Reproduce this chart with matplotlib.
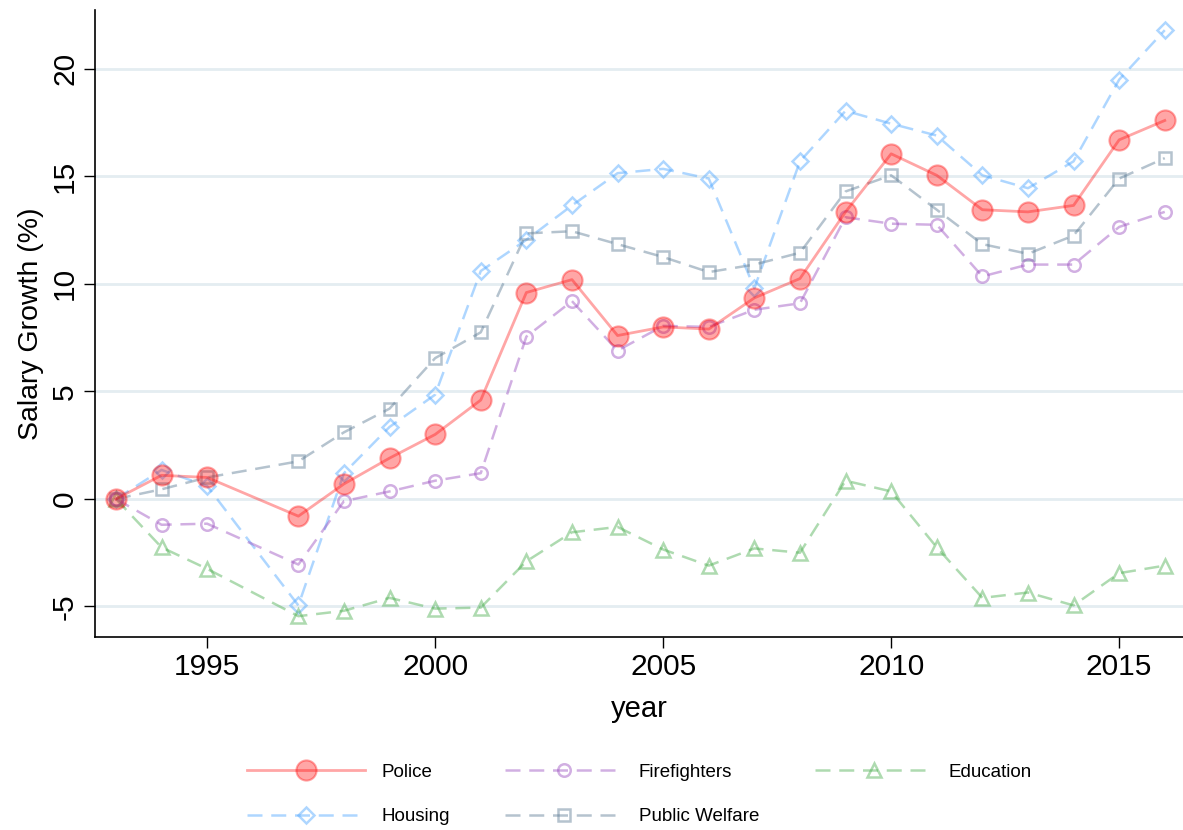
import numpy as np
import matplotlib
matplotlib.use("Agg")
import matplotlib.pyplot as plt

plt.rcParams['font.family'] = ['Liberation Sans', 'DejaVu Sans']
plt.rcParams['axes.unicode_minus'] = False

# data (1996 missing in the source)
years = [1993, 1994, 1995, 1997, 1998, 1999, 2000, 2001, 2002, 2003, 2004, 2005,
         2006, 2007, 2008, 2009, 2010, 2011, 2012, 2013, 2014, 2015, 2016]
police = [0, 1.1, 1.0, -0.8, 0.7, 1.9, 3.0, 4.6, 9.6, 10.2, 7.6, 8.0,
          7.9, 9.35, 10.25, 13.35, 16.05, 15.05, 13.45, 13.35, 13.65, 16.7, 17.6]
firefighters = [0, -1.2, -1.15, -3.05, -0.1, 0.35, 0.85, 1.2, 7.55, 9.2, 6.9, 8.05,
                8.0, 8.8, 9.1, 13.1, 12.8, 12.75, 10.35, 10.9, 10.9, 12.65, 13.35]
education = [0, -2.25, -3.25, -5.45, -5.2, -4.6, -5.1, -5.05, -2.9, -1.55, -1.3, -2.35,
             -3.1, -2.3, -2.5, 0.85, 0.35, -2.25, -4.6, -4.35, -4.95, -3.45, -3.1]
housing = [0, 1.35, 0.6, -4.95, 1.2, 3.35, 4.85, 10.6, 12.05, 13.65, 15.15, 15.35,
           14.9, 9.8, 15.7, 18.05, 17.45, 16.9, 15.05, 14.45, 15.7, 19.5, 21.8]
welfare = [0, 0.45, 1.0, 1.75, 3.1, 4.2, 6.55, 7.75, 12.35, 12.45, 11.85, 11.25,
           10.55, 10.9, 11.45, 14.3, 15.05, 13.45, 11.85, 11.4, 12.25, 14.9, 15.85]

fig = plt.figure(figsize=(11.83, 8.3), dpi=100)
ax = fig.add_axes([0.0803, 0.2325, 0.9197, 0.7555])

dash = (6, 3.5)
ax.plot(years, housing, color='#4da6ff', alpha=0.45, lw=1.8, dashes=dash,
        marker='D', ms=8.5, mfc='none', mew=1.8, label='Housing', zorder=3)
ax.plot(years, welfare, color='#5b7a94', alpha=0.45, lw=1.8, dashes=dash,
        marker='s', ms=8.5, mfc='none', mew=1.8, label='Public Welfare', zorder=3)
ax.plot(years, education, color='#4caf50', alpha=0.45, lw=1.8, dashes=dash,
        marker='^', ms=10, mfc='none', mew=1.8, label='Education', zorder=3)
ax.plot(years, firefighters, color='#9b4fc0', alpha=0.45, lw=1.8, dashes=dash,
        marker='o', ms=9, mfc='none', mew=1.8, label='Firefighters', zorder=3)
ax.plot(years, police, color='red', alpha=0.35, lw=2, marker='o', ms=14.5,
        mec='red', mew=1.5, label='Police', zorder=4)

ax.set_xlim(1992.54, 2016.4)
ax.set_ylim(-6.42, 22.74)
ax.set_xticks([1995, 2000, 2005, 2010, 2015])
ax.set_yticks([-5, 0, 5, 10, 15, 20])
ax.yaxis.grid(True, color='#e4edf1', lw=2)
ax.set_axisbelow(True)
for s in ['top', 'right']:
    ax.spines[s].set_visible(False)
for s in ['left', 'bottom']:
    ax.spines[s].set_linewidth(1.2)
ax.tick_params(axis='both', labelsize=21.5, length=8, width=1)
plt.setp(ax.get_yticklabels(), rotation=90, va='center')
ax.set_xlabel('year', fontsize=21, labelpad=10)
ax.set_ylabel('Salary Growth (%)', fontsize=20.5, labelpad=5)

# legend: row-major layout (Police, Firefighters, Education / Housing, Public Welfare)
h, l = ax.get_legend_handles_labels()
order = [4, 0, 3, 1, 2]
fig.legend([h[i] for i in order], [l[i] for i in order], loc='upper center',
           bbox_to_anchor=(0.5405, 0.1), ncol=3, frameon=False, fontsize=13.5,
           handlelength=6.3, handletextpad=0.85, columnspacing=2.95,
           labelspacing=1.45, numpoints=1)

fig.savefig('out.png', dpi=100)
